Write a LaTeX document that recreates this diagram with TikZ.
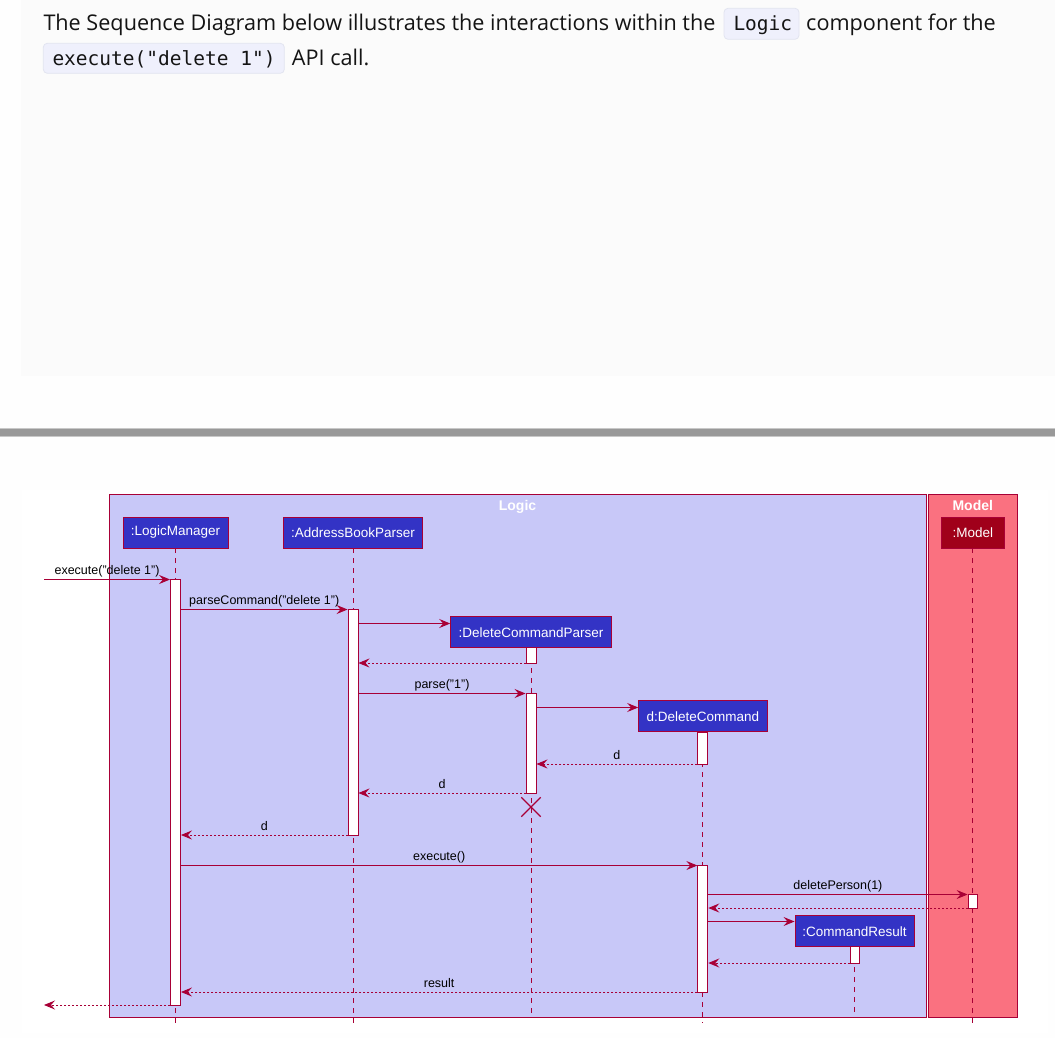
\documentclass[tikz,border=0pt]{standalone}
\usepackage{fontspec}
\setmainfont{Liberation Sans}
\newfontfamily\topfont{Open Sans}
\newfontfamily\codefont{DejaVu Sans Mono}
\usetikzlibrary{arrows.meta,shapes.misc}
\definecolor{crim}{RGB}{168,0,54}
\definecolor{partblue}{RGB}{51,51,197}
\definecolor{modred}{RGB}{160,0,26}
\definecolor{logicfill}{RGB}{200,200,248}
\definecolor{modelfill}{RGB}{250,113,128}
\definecolor{pagebg}{RGB}{254,254,254}
\definecolor{panelbg}{RGB}{251,251,251}
\definecolor{sepgray}{RGB}{153,153,153}
\definecolor{sepedge}{RGB}{200,200,200}
\definecolor{codefill}{RGB}{239,240,252}
\definecolor{codeedge}{RGB}{226,228,240}
\definecolor{txt}{RGB}{20,20,20}
\newlength\segw
\begin{document}
\settowidth\segw{\topfont\fontsize{20pt}{24pt}\selectfont The Sequence Diagram below illustrates the interactions within the}%
\pgfmathsetmacro\tsz{672/\segw*20}%
\def\tfont{\topfont\fontsize{\tsz pt}{\tsz pt}\selectfont}%
\begin{tikzpicture}[x=1pt,y=-1pt,
  part/.style={draw=crim, line width=0.9pt, fill=partblue, text=white,
    font=\fontsize{13.5pt}{16pt}\selectfont, minimum height=31pt, inner sep=0pt},
  actbar/.style={draw=crim, line width=0.9pt, fill=white, minimum width=10pt, inner sep=0pt},
  life/.style={draw=crim, line width=0.8pt, dash pattern=on 5pt off 5pt},
  msg/.style={draw=crim, line width=0.9pt, -{Stealth[length=11pt,width=9pt,inset=4pt]}},
  ret/.style={msg, dash pattern=on 2pt off 2pt},
  lbl/.style={font=\fontsize{12.5pt}{15pt}\selectfont, text=black, anchor=base, inner sep=0pt, yshift=5pt},
  frame/.style={draw=crim, line width=1pt, inner sep=0pt},
  ftitle/.style={font=\fontsize{14pt}{16pt}\selectfont\bfseries, text=white, anchor=base, inner sep=0pt},
  codebox/.style={draw=codeedge, fill=codefill, rounded corners=4pt, line width=0.8pt, inner sep=0pt},
  codetxt/.style={font=\codefont\fontsize{19.5pt}{22pt}\selectfont, text=txt, anchor=base west, inner sep=0pt},
  toptxt/.style={font=\tfont, text=txt, anchor=base west, inner sep=0pt}
]
\useasboundingbox (0,0) rectangle (1055,1038);
\fill[pagebg] (0,0) rectangle (1055,1038);
\fill[panelbg] (21,0) rectangle (1055,375.5);
\fill[sepedge] (0,427.5) rectangle (1055,437);
\fill[sepgray] (0,429) rectangle (1055,435.5);
\fill[white] (22,490) rectangle (1048,1033);

% top text
\node[toptxt] (t1) at (43.3,31) {The Sequence Diagram below illustrates the interactions within the};
\node[codebox, minimum width=75pt, minimum height=31pt] (c1box) at (761.5,23.8) {};
\node[codetxt] (c1) at (733.3,31) {Logic};
\node[toptxt] (t2) at (806,31) {component for the};
\node[codebox, minimum width=241pt, minimum height=30pt] (c2box) at (163.8,58.3) {};
\node[codetxt] (c2) at (52.3,65.3) {execute("delete 1")};
\node[toptxt] (t3) at (291.7,65.3) {API call.};

% frames
\node[frame, fill=logicfill, minimum width=817pt, minimum height=522.5pt] (logicbox) at (517.5,755.75) {};
\node[frame, fill=modelfill, minimum width=88.5pt, minimum height=522.5pt] (modelbox) at (972.75,755.75) {};
\node[ftitle] (logicT) at (517.5,510.5) {Logic};
\node[ftitle] (modelT) at (972.75,510.5) {Model};

% participants
\node[part, minimum width=105pt] (lm) at (175.5,532.5) {:LogicManager};
\node[part, minimum width=139.4pt] (abp) at (353,532.5) {:AddressBookParser};
\node[part, fill=modred, minimum width=62.3pt] (md) at (972.8,532.5) {:Model};
\node[part, minimum width=160.6pt] (dcp) at (531,632.2) {:DeleteCommandParser};
\node[part, minimum width=128.3pt] (dc) at (702.8,716.4) {d:DeleteCommand};
\node[part, minimum width=119pt] (cr) at (854.5,931.3) {:CommandResult};

% lifelines
\draw[life] (lm.south) -- (lm.south |- 0,1023);
\draw[life] (abp.south) -- (abp.south |- 0,1023);
\draw[life] (md.south) -- (md.south |- 0,1023);
\draw[life] (dcp.south) -- (dcp.south |- 0,1018);
\draw[life] (dc.south) -- (dc.south |- 0,1023);
\draw[life] (cr.south) -- (cr.south |- 0,1018);

% activations
\node[actbar, minimum height=426pt] (lmA) at (175.5,792.5) {};
\node[actbar, minimum height=226.5pt] (abpA) at (353,722.25) {};
\node[actbar, minimum height=15.6pt] (dcpA1) at (531,655.5) {};
\node[actbar, minimum height=100pt] (dcpA2) at (531,743.3) {};
\node[actbar, minimum height=32.3pt] (dcA1) at (702.8,748.15) {};
\node[actbar, minimum height=127pt] (dcA2) at (702.8,928.8) {};
\node[actbar, minimum height=14pt, minimum width=9.5pt] (mdA) at (972.8,901.3) {};
\node[actbar, minimum height=16.6pt, minimum width=9pt] (crA) at (854.5,955) {};

% destroy
\node[cross out, draw=crim, line width=1.3pt, minimum size=18pt, inner sep=0pt] (kill) at (531,807) {};

% messages
\coordinate (inL) at (44,579.5);
\coordinate (outL) at (44,1005);
\draw[msg] (inL) -- (lmA.west |- inL) node[lbl, midway] {execute("delete 1")};
\draw[msg] (lmA.east |- 0,609.5) -- (abpA.west |- 0,609.5) node[lbl, midway] {parseCommand("delete 1")};
\draw[msg] (abpA.east |- 0,623.5) -- (dcp.west |- 0,623.5);
\draw[ret] (dcpA1.west |- 0,663) -- (abpA.east |- 0,663);
\draw[msg] (abpA.east |- 0,693.5) -- (dcpA2.west |- 0,693.5) node[lbl, midway] {parse("1")};
\draw[msg] (dcpA2.east |- 0,707.5) -- (dc.west |- 0,707.5);
\draw[ret] (dcA1.west |- 0,764) -- (dcpA2.east |- 0,764) node[lbl, midway] {d};
\draw[ret] (dcpA2.west |- 0,793) -- (abpA.east |- 0,793) node[lbl, midway] {d};
\draw[ret] (abpA.west |- 0,835) -- (lmA.east |- 0,835) node[lbl, midway] {d};
\draw[msg] (lmA.east |- 0,865.5) -- (dcA2.west |- 0,865.5) node[lbl, midway] {execute()};
\draw[msg] (dcA2.east |- 0,894.5) -- (mdA.west |- 0,894.5) node[lbl, midway] {deletePerson(1)};
\draw[ret] (mdA.west |- 0,908) -- (dcA2.east |- 0,908);
\draw[msg] (dcA2.east |- 0,921.5) -- (cr.west |- 0,921.5);
\draw[ret] (crA.west |- 0,963) -- (dcA2.east |- 0,963);
\draw[ret] (dcA2.west |- 0,992) -- (lmA.east |- 0,992) node[lbl, midway] {result};
\draw[ret] (lmA.west |- outL) -- (outL);
\end{tikzpicture}
\end{document}
